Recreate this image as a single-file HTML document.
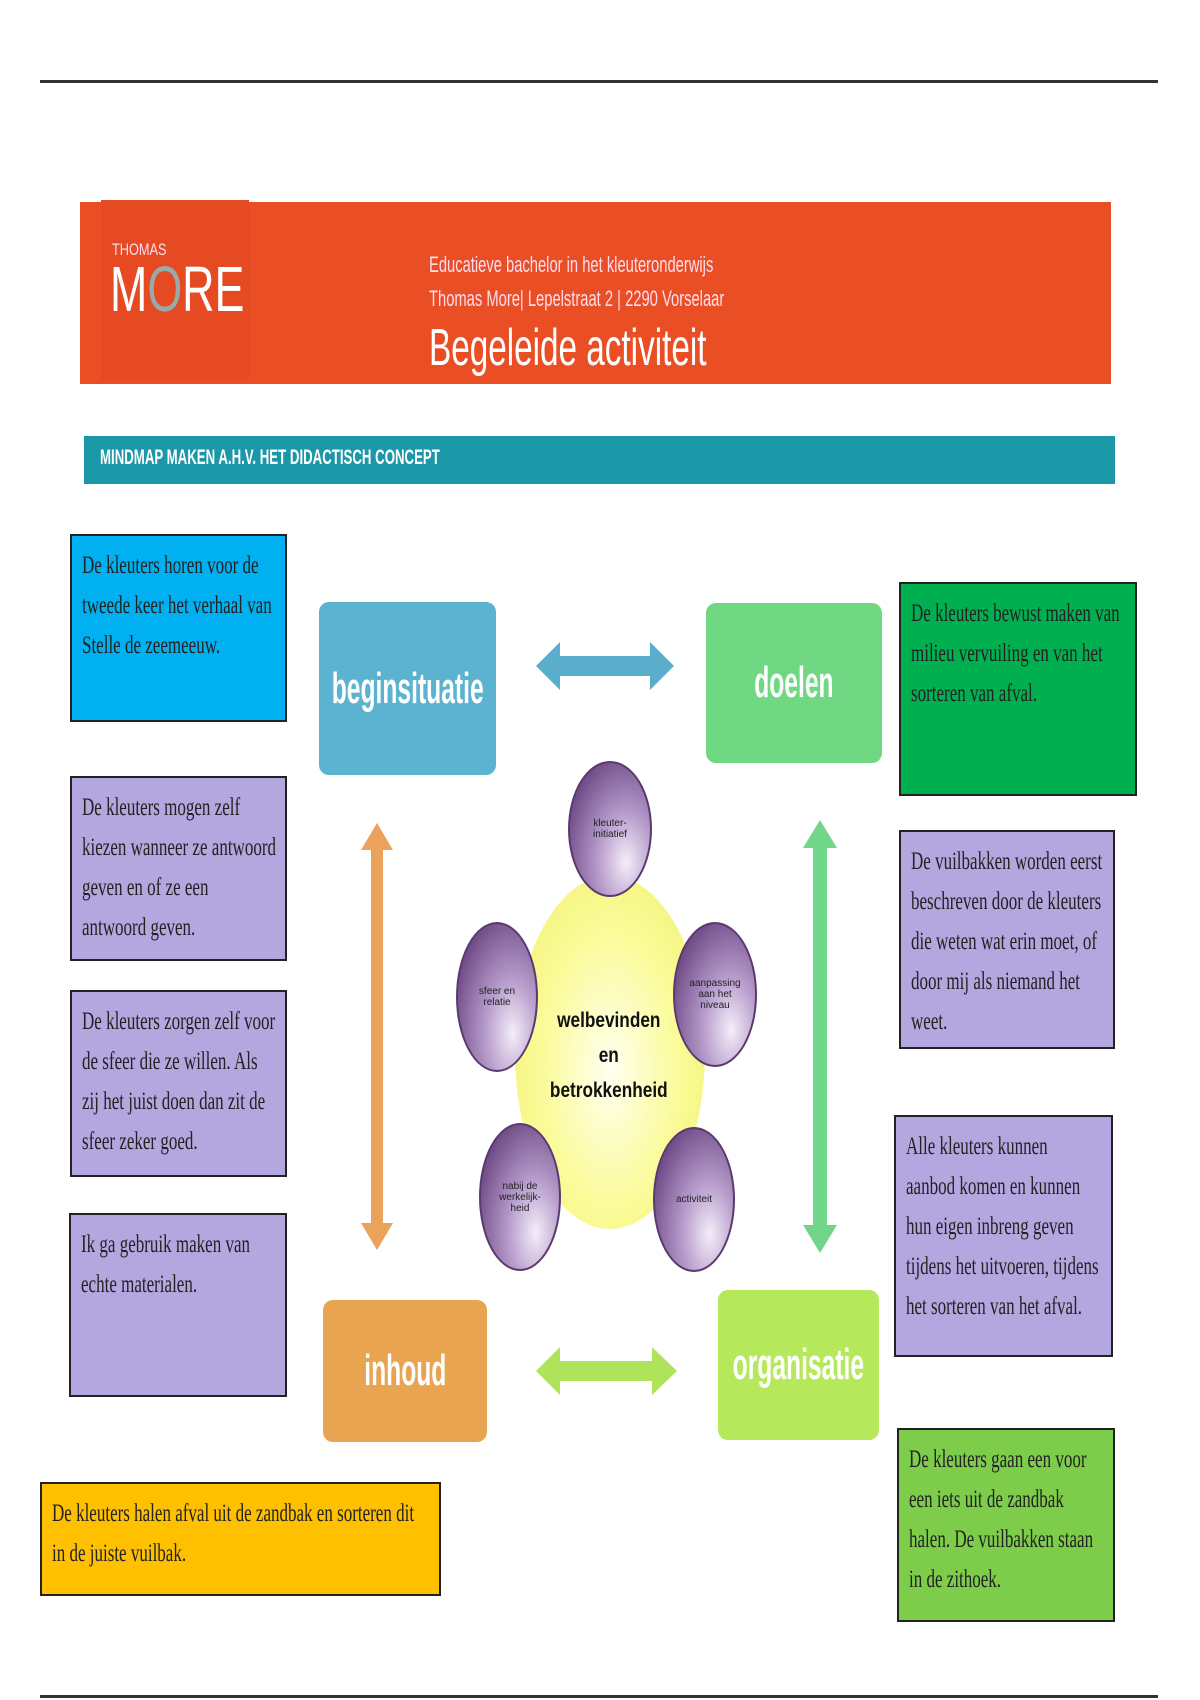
<!DOCTYPE html>
<html><head><meta charset="utf-8"><style>
body{margin:0;width:1200px;height:1700px;background:#fff;position:relative;overflow:hidden;font-family:"Liberation Sans",sans-serif}
.a{position:absolute}
.n{display:inline-block;transform-origin:0 0;white-space:nowrap}
.box{position:absolute;border:2px solid #222;box-sizing:border-box;overflow:hidden}
.box .t{font-family:"Liberation Serif",serif;font-size:25px;line-height:40px;color:#222;transform:scaleX(0.68);transform-origin:0 0;white-space:nowrap;position:absolute;left:10px;top:10px}
.c{position:absolute;border-radius:10px;color:#fff;font-size:44px;font-weight:bold;display:flex;align-items:center;justify-content:center}
.c span{display:inline-block;transform:scaleX(0.56);white-space:nowrap}
.el{position:absolute;border-radius:50%;background:radial-gradient(ellipse at 70% 75%,#f4eef8 0%,#b79ccc 35%,#6e4a86 80%,#4c2c60 100%);border:2px solid #5a3a6e;box-sizing:border-box;display:flex;align-items:center;justify-content:center;text-align:center;font-size:10px;line-height:11px;color:#222}
</style></head><body>
<div class="a" style="left:40px;top:80px;width:1118px;height:3px;background:#333"></div>
<div class="a" style="left:40px;top:1695px;width:1118px;height:3px;background:#333"></div>
<div class="a" style="left:80px;top:202px;width:1031px;height:182px;background:#ea4e25"></div>
<div class="a" style="left:101px;top:200px;width:148px;height:180px;background:#e64a22"></div>
<div class="a" style="left:112px;top:240px;color:#fde;font-size:17px"><span class="n" style="transform:scaleX(0.75)">THOMAS</span></div>
<div class="a" style="left:110px;top:252px;color:#fff;font-size:64px"><span class="n" style="transform:scaleX(0.7)">M<span style="color:#9aa">O</span>RE</span></div>
<div class="a" style="left:429px;top:248px;color:#fde;font-size:22px;line-height:34px"><span class="n" style="transform:scaleX(0.67)">Educatieve bachelor in het kleuteronderwijs<br>Thomas More| Lepelstraat 2 | 2290 Vorselaar</span></div>
<div class="a" style="left:429px;top:318px;color:#fff;font-size:52px"><span class="n" style="transform:scaleX(0.64)">Begeleide activiteit</span></div>
<div class="a" style="left:84px;top:436px;width:1031px;height:48px;background:#1c97a8"></div>
<div class="a" style="left:100px;top:446px;color:#fff;font-size:21px;font-weight:bold"><span class="n" style="transform:scaleX(0.63)">MINDMAP MAKEN A.H.V. HET DIDACTISCH CONCEPT</span></div>

<div class="box" style="left:70px;top:534px;width:217px;height:188px;background:#00b0f0"><div class="t">De kleuters horen voor de<br>tweede keer het verhaal van<br>Stelle de zeemeeuw.</div></div>
<div class="box" style="left:70px;top:776px;width:217px;height:185px;background:#b4a7e0"><div class="t">De kleuters mogen zelf<br>kiezen wanneer ze antwoord<br>geven en of ze een<br>antwoord geven.</div></div>
<div class="box" style="left:70px;top:990px;width:217px;height:187px;background:#b4a7e0"><div class="t">De kleuters zorgen zelf voor<br>de sfeer die ze willen. Als<br>zij het juist doen dan zit de<br>sfeer zeker goed.</div></div>
<div class="box" style="left:69px;top:1213px;width:218px;height:184px;background:#b4a7e0"><div class="t">Ik ga gebruik maken van<br>echte materialen.</div></div>
<div class="box" style="left:40px;top:1482px;width:401px;height:114px;background:#ffc000"><div class="t">De kleuters halen afval uit de zandbak en sorteren dit<br>in de juiste vuilbak.</div></div>

<div class="box" style="left:899px;top:582px;width:238px;height:214px;background:#00b050"><div class="t">De kleuters bewust maken van<br>milieu vervuiling en van het<br>sorteren van afval.</div></div>
<div class="box" style="left:899px;top:830px;width:216px;height:219px;background:#b4a7e0"><div class="t">De vuilbakken worden eerst<br>beschreven door de kleuters<br>die weten wat erin moet, of<br>door mij als niemand het<br>weet.</div></div>
<div class="box" style="left:894px;top:1115px;width:219px;height:242px;background:#b4a7e0"><div class="t">Alle kleuters kunnen<br>aanbod komen en kunnen<br>hun eigen inbreng geven<br>tijdens het uitvoeren, tijdens<br>het sorteren van het afval.</div></div>
<div class="box" style="left:897px;top:1428px;width:218px;height:194px;background:#7dcc4a"><div class="t">De kleuters gaan een voor<br>een iets uit de zandbak<br>halen. De vuilbakken staan<br>in de zithoek.</div></div>

<div class="c" style="left:319px;top:602px;width:177px;height:173px;background:#5bb3d0"><span>beginsituatie</span></div>
<div class="c" style="left:706px;top:603px;width:176px;height:160px;background:#70d883"><span>doelen</span></div>
<div class="c" style="left:323px;top:1300px;width:164px;height:142px;background:#e9a452"><span>inhoud</span></div>
<div class="c" style="left:718px;top:1290px;width:161px;height:150px;background:#b6e85c"><span>organisatie</span></div>

<svg class="a" style="left:0;top:0" width="1200" height="1700">
<polygon points="536,666 560,642 560,656 650,656 650,642 674,666 650,690 650,676 560,676 560,690" fill="#5aaecb"/>
<polygon points="536,1371 560,1347 560,1361 652,1361 652,1347 677,1371 652,1395 652,1381 560,1381 560,1395" fill="#aee35a"/>
<polygon points="377,823 393,850 383,850 383,1223 393,1223 377,1250 361,1223 371,1223 371,850 361,850" fill="#eba25a"/>
<polygon points="820,820 837,848 827,848 827,1225 837,1225 820,1253 803,1225 813,1225 813,848 803,848" fill="#72d68a"/>
</svg>

<div class="a" style="left:515px;top:876px;width:190px;height:353px;border-radius:50%;background:radial-gradient(ellipse at 50% 55%,#fffff0 0%,#fbfb9a 50%,#eef06a 100%)"></div>
<div class="el" style="left:568px;top:761px;width:84px;height:136px">kleuter-<br>initiatief</div>
<div class="el" style="left:673px;top:922px;width:84px;height:145px">aanpassing<br>aan het<br>niveau</div>
<div class="el" style="left:653px;top:1127px;width:82px;height:145px">activiteit</div>
<div class="el" style="left:479px;top:1123px;width:82px;height:148px">nabij de<br>werkelijk-<br>heid</div>
<div class="el" style="left:456px;top:922px;width:82px;height:150px">sfeer en<br>relatie</div>
<div class="a" style="left:520px;top:1003px;width:178px;text-align:center;font-weight:bold;font-size:21px;line-height:35px;color:#111"><span style="display:inline-block;transform:scaleX(0.82)">welbevinden<br>en<br>betrokkenheid</span></div>
</body></html>
